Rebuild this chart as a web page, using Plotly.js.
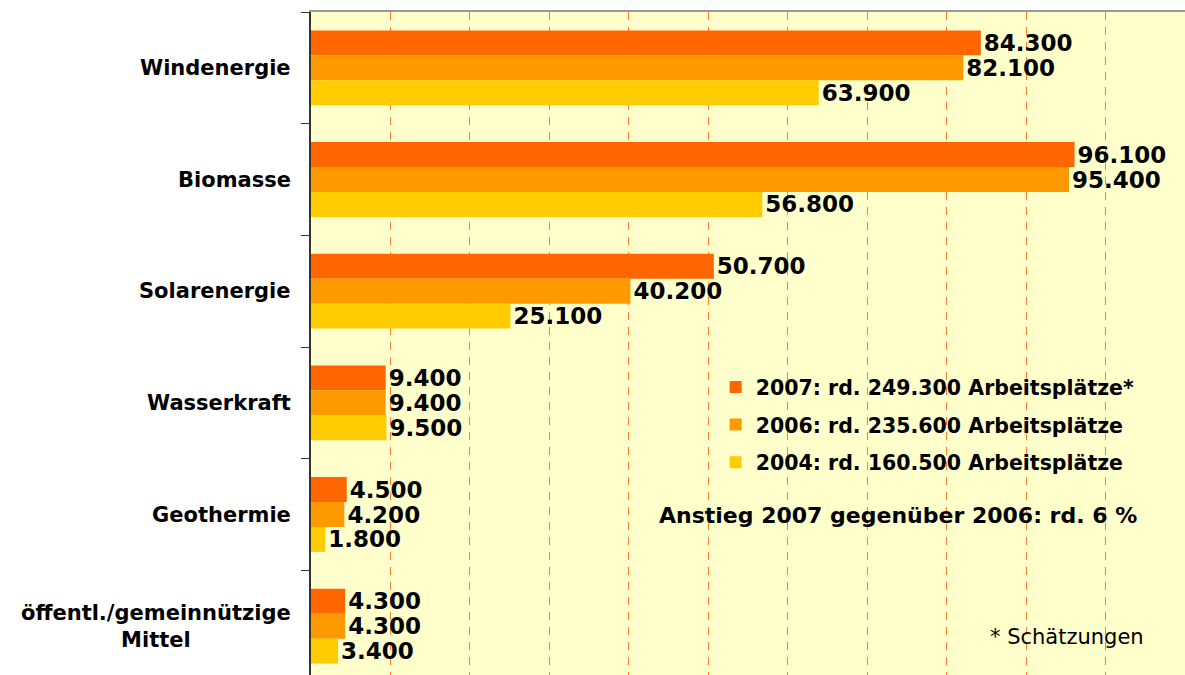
<!DOCTYPE html>
<html>
<head>
<meta charset="utf-8">
<script src="https://cdn.plot.ly/plotly-3.0.1.min.js"></script>
<style>
html, body { margin: 0; padding: 0; overflow: hidden; background: #ffffff; }
#chart { width: 1185px; height: 682px; }
</style>
</head>
<body>
<div id="chart"></div>
<script>
const categories = ["Windenergie", "Biomasse", "Solarenergie", "Wasserkraft", "Geothermie", "öffentl./gemeinnützige<br>Mittel"];
const seriesNames = ["2007: rd. 249.300 Arbeitsplätze*", "2006: rd. 235.600 Arbeitsplätze", "2004: rd. 160.500 Arbeitsplätze"];
const values2007 = [84300, 96100, 50700, 9400, 4500, 4300];
const values2006 = [82100, 95400, 40200, 9400, 4200, 4300];
const values2004 = [63900, 56800, 25100, 9500, 1800, 3400];
const colors = ["#FF6600", "#FF9900", "#FFCC00"];
const noteText = "Anstieg 2007 gegenüber 2006: rd. 6 %";
const footText = "* Schätzungen";

const FONT = "DejaVu Sans, Verdana, sans-serif";
const allValues = [values2007, values2006, values2004];

const traces = allValues.map((vals, i) => ({
  type: "bar",
  orientation: "h",
  name: seriesNames[i],
  legendgroup: "g" + i,
  y: categories,
  x: vals,
  marker: { color: colors[i], line: { width: 0 } },
  texttemplate: "%{x:,.0f}",
  textposition: "outside",
  constraintext: "none",
  cliponaxis: false,
  textfont: { family: FONT, size: 23, weight: "bold", color: "#000000" },
  hoverinfo: "skip"
}));

const annotations = categories.map(c => ({
  xref: "paper", yref: "y", x: 0, y: c,
  xanchor: "right", yanchor: "middle", xshift: -18,
  text: c, showarrow: false, align: "center",
  font: { family: FONT, size: 21, weight: "bold", color: "#000000" }
}));
annotations.push({
  xref: "paper", yref: "paper", x: 0.672, y: 0.249,
  xanchor: "center", yanchor: "middle", text: noteText, showarrow: false,
  font: { family: FONT, size: 22, weight: "bold", color: "#000000" }
});
annotations.push({
  xref: "paper", yref: "paper", x: 0.865, y: 0.067,
  xanchor: "center", yanchor: "middle", text: footText, showarrow: false,
  font: { family: FONT, size: 21, color: "#000000" }
});

const layout = {
  width: 1185, height: 682,
  margin: { l: 311, r: 0, t: 12, b: 0, pad: 0 },
  paper_bgcolor: "#ffffff",
  plot_bgcolor: "#FFFFCC",
  separators: ",.",
  barmode: "group",
  bargap: 0.33,
  bargroupgap: 0,
  showlegend: true,
  legend: {
    x: 0.463, y: 0.47, xanchor: "left", yanchor: "top",
    bgcolor: "rgba(0,0,0,0)",
    font: { family: FONT, size: 20.5, weight: "bold", color: "#000000" },
    tracegroupgap: 8,
    itemwidth: 30
  },
  xaxis: {
    range: [0, 110000],
    dtick: 10000,
    side: "top",
    showticklabels: false,
    ticks: "",
    showgrid: true,
    gridcolor: "#FF8033",
    gridwidth: 1,
    griddash: "8px,7px",
    zeroline: false,
    showline: true,
    linecolor: "#999999",
    linewidth: 2,
    fixedrange: true
  },
  yaxis: {
    autorange: "reversed",
    showticklabels: false,
    ticks: "outside",
    tickson: "boundaries",
    ticklen: 8,
    tickcolor: "#333333",
    tickwidth: 1,
    showgrid: false,
    zeroline: false,
    showline: true,
    linecolor: "#333333",
    linewidth: 2,
    fixedrange: true
  },
  annotations: annotations
};

Plotly.newPlot("chart", traces, layout, { displayModeBar: false, staticPlot: true });
</script>
</body>
</html>
